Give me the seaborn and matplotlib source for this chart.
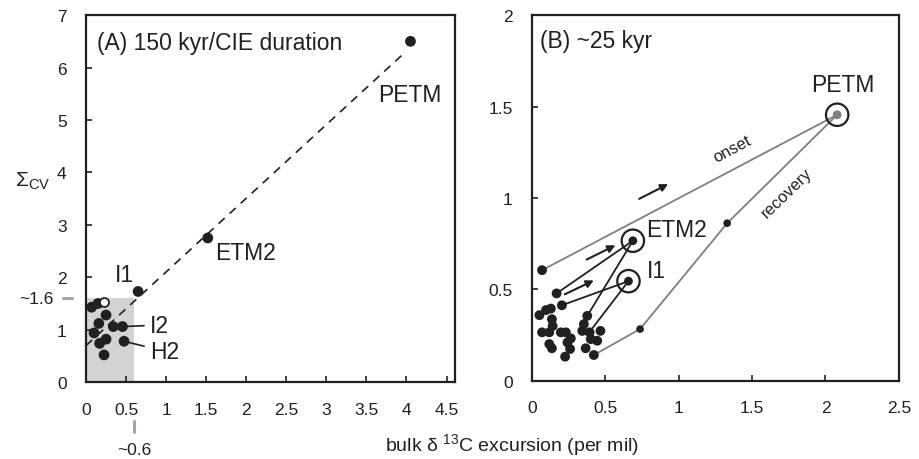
import numpy as np
import matplotlib
matplotlib.use('Agg')
import matplotlib.pyplot as plt
from matplotlib.patches import Rectangle
from matplotlib.ticker import FuncFormatter, MultipleLocator
import seaborn as sns

# --- panel A: 150 kyr / CIE duration ---
a_x = [4.05, 1.52, 0.65, 0.15, 0.07, 0.25, 0.16, 0.10, 0.34, 0.455, 0.475, 0.17, 0.25, 0.225]
a_y = [6.50, 2.75, 1.73, 1.50, 1.43, 1.28, 1.12, 0.94, 1.06, 1.06, 0.78, 0.74, 0.82, 0.52]
a_open_x = [0.225]
a_open_y = [1.52]
shade_x = 0.6
shade_y = 1.6

# --- panel B: ~25 kyr ---
b_x = [0.068, 0.167, 0.203, 0.095, 0.128, 0.05, 0.135, 0.14, 0.068, 0.117,
       0.196, 0.23, 0.264, 0.241, 0.117, 0.135, 0.259, 0.225,
       0.376, 0.353, 0.342, 0.392, 0.466, 0.444, 0.40, 0.365, 0.421]
b_y = [0.605, 0.478, 0.413, 0.387, 0.395, 0.359, 0.337, 0.30, 0.265, 0.265,
       0.265, 0.265, 0.232, 0.21, 0.201, 0.178, 0.174, 0.132,
       0.355, 0.31, 0.273, 0.265, 0.273, 0.219, 0.228, 0.178, 0.141]
events = ['PETM', 'ETM2', 'I1']
ev_x = [2.08, 0.687, 0.657]
ev_y = [1.455, 0.766, 0.545]
onset_x = [0.068, 2.08]
onset_y = [0.605, 1.455]
recov_x = [2.08, 1.33, 0.736, 0.421]
recov_y = [1.455, 0.862, 0.283, 0.141]
etm2_x = [0.167, 0.687, 0.376]
etm2_y = [0.478, 0.766, 0.355]
i1_x = [0.203, 0.657, 0.399]
i1_y = [0.413, 0.545, 0.275]
arrow_tail = [(0.73, 0.995), (0.372, 0.663), (0.223, 0.473)]
arrow_head = [(0.928, 1.076), (0.568, 0.741), (0.421, 0.549)]

sns.set_style('ticks')
plt.rcParams['font.family'] = ['Liberation Sans', 'DejaVu Sans']
plt.rcParams['mathtext.fontset'] = 'custom'
plt.rcParams['mathtext.rm'] = 'Liberation Sans'
plt.rcParams['mathtext.it'] = 'Liberation Sans'

dark = '#231f20'
grey = '#7f7f7f'
fmt = FuncFormatter(lambda v, p: '%g' % v)

fig = plt.figure(figsize=(9.19, 4.6), dpi=100)
axA = fig.add_axes([0.0936, 0.167, 0.401, 0.798])
axB = fig.add_axes([0.579, 0.170, 0.399, 0.795])

# ---- A ----
axA.add_patch(Rectangle((0, 0), shade_x, shade_y, color='#d3d3d3', lw=0, zorder=0))
fit = np.polyfit(a_x, a_y, 1)
xs = np.array([0, max(a_x) - 0.1])
axA.plot(xs, np.polyval(fit, xs), color=dark, lw=1.2, dashes=(5, 4), zorder=1)
sns.scatterplot(x=a_x, y=a_y, ax=axA, color=dark, s=60, edgecolor='none', zorder=3)
sns.scatterplot(x=a_open_x, y=a_open_y, ax=axA, color='white', s=42,
                edgecolor=dark, linewidth=1.3, zorder=4)
axA.set_xlim(0, 4.6)
axA.set_ylim(0, 7)
axA.xaxis.set_major_locator(MultipleLocator(0.5))
axA.yaxis.set_major_locator(MultipleLocator(1))
axA.text(0.03, 0.926, '(A) 150 kyr/CIE duration', transform=axA.transAxes,
         fontsize=16.5, va='center', ha='left', color=dark)
axA.text(4.04, 5.48, 'PETM', fontsize=16.5, ha='center', va='center', color=dark)
axA.text(1.99, 2.48, 'ETM2', fontsize=16.5, ha='center', va='center', color=dark)
axA.text(0.475, 2.06, 'I1', fontsize=16.5, ha='center', va='center', color=dark)
axA.annotate('I2', xy=(0.455, 1.06), xytext=(0.8, 1.09), fontsize=16.5, va='center',
             color=dark, arrowprops=dict(arrowstyle='-', color=dark, lw=1.2,
                                         shrinkA=2, shrinkB=0))
axA.annotate('H2', xy=(0.475, 0.78), xytext=(0.8, 0.59), fontsize=16.5, va='center',
             color=dark, arrowprops=dict(arrowstyle='-', color=dark, lw=1.2,
                                         shrinkA=2, shrinkB=0))
# threshold marks outside axes
axA.plot([-0.29, -0.17], [shade_y, shade_y], color='#a6a6a6', lw=2.2, clip_on=False)
axA.text(-0.40, shade_y, '~1.6', fontsize=12.5, ha='right', va='center', color=dark)
axA.plot([shade_x, shade_x], [-0.74, -0.95], color='#a6a6a6', lw=2.2, clip_on=False)
axA.text(shade_x, -1.28, '~0.6', fontsize=12.5, ha='center', va='center', color=dark)
axA.set_ylabel(r'$\Sigma_{\mathrm{CV}}$', rotation=0, fontsize=15, color=dark)
axA.yaxis.set_label_coords(-0.145, 0.52)

# ---- B ----
axB.plot(onset_x, onset_y, color=grey, lw=1.3, zorder=1)
axB.plot(recov_x, recov_y, color=grey, lw=1.3, zorder=1)
axB.plot(etm2_x, etm2_y, color=dark, lw=1.3, zorder=2)
axB.plot(i1_x, i1_y, color=dark, lw=1.3, zorder=2)
sns.scatterplot(x=b_x, y=b_y, ax=axB, color=dark, s=50, edgecolor='none', zorder=3)
sns.scatterplot(x=recov_x[1:3], y=recov_y[1:3], ax=axB, color=dark, s=30,
                edgecolor='none', zorder=3)
sns.scatterplot(x=ev_x[:1], y=ev_y[:1], ax=axB, color=grey, s=40, edgecolor='none', zorder=3)
sns.scatterplot(x=ev_x[1:], y=ev_y[1:], ax=axB, color=dark, s=40, edgecolor='none', zorder=3)
sns.scatterplot(x=ev_x, y=ev_y, ax=axB, facecolor='none', s=260,
                edgecolor=dark, linewidth=1.6, zorder=4)
for t, h in zip(arrow_tail, arrow_head):
    axB.annotate('', xy=h, xytext=t,
                 arrowprops=dict(arrowstyle='-|>', color=dark, lw=1.5,
                                 mutation_scale=11, shrinkA=0, shrinkB=0))
axB.set_xlim(0, 2.5)
axB.set_ylim(0, 2)
axB.xaxis.set_major_locator(MultipleLocator(0.5))
axB.yaxis.set_major_locator(MultipleLocator(0.5))
axB.text(0.022, 0.93, '(B) ~25 kyr', transform=axB.transAxes,
         fontsize=16.5, va='center', ha='left', color=dark)
axB.text(2.115, 1.62, events[0], fontsize=16.5, ha='center', va='center', color=dark)
axB.text(0.78, 0.83, events[1], fontsize=16.5, ha='left', va='center', color=dark)
axB.text(0.78, 0.603, events[2], fontsize=16.5, ha='left', va='center', color=dark)
axB.text(1.365, 1.27, 'onset', fontsize=12, rotation=28, ha='center', va='center', color=dark)
axB.text(1.736, 1.033, 'recovery', fontsize=12, rotation=44, ha='center', va='center', color=dark)

for ax in (axA, axB):
    ax.xaxis.set_major_formatter(fmt)
    ax.yaxis.set_major_formatter(fmt)
    ax.tick_params(direction='in', length=4, width=1.2, labelsize=12.5, colors=dark)
    ax.tick_params(axis='x', pad=14)
    ax.tick_params(axis='y', pad=14)
    for sp in ax.spines.values():
        sp.set_visible(True)
        sp.set_linewidth(1.6)
        sp.set_color(dark)
    ax.set_xlabel('')

fig.text(512 / 919, 1 - 451 / 460, r'bulk $\delta$ $^{13}$C excursion (per mil)',
         fontsize=14, ha='center', va='baseline', color=dark)

fig.savefig('out.png', dpi=100)
